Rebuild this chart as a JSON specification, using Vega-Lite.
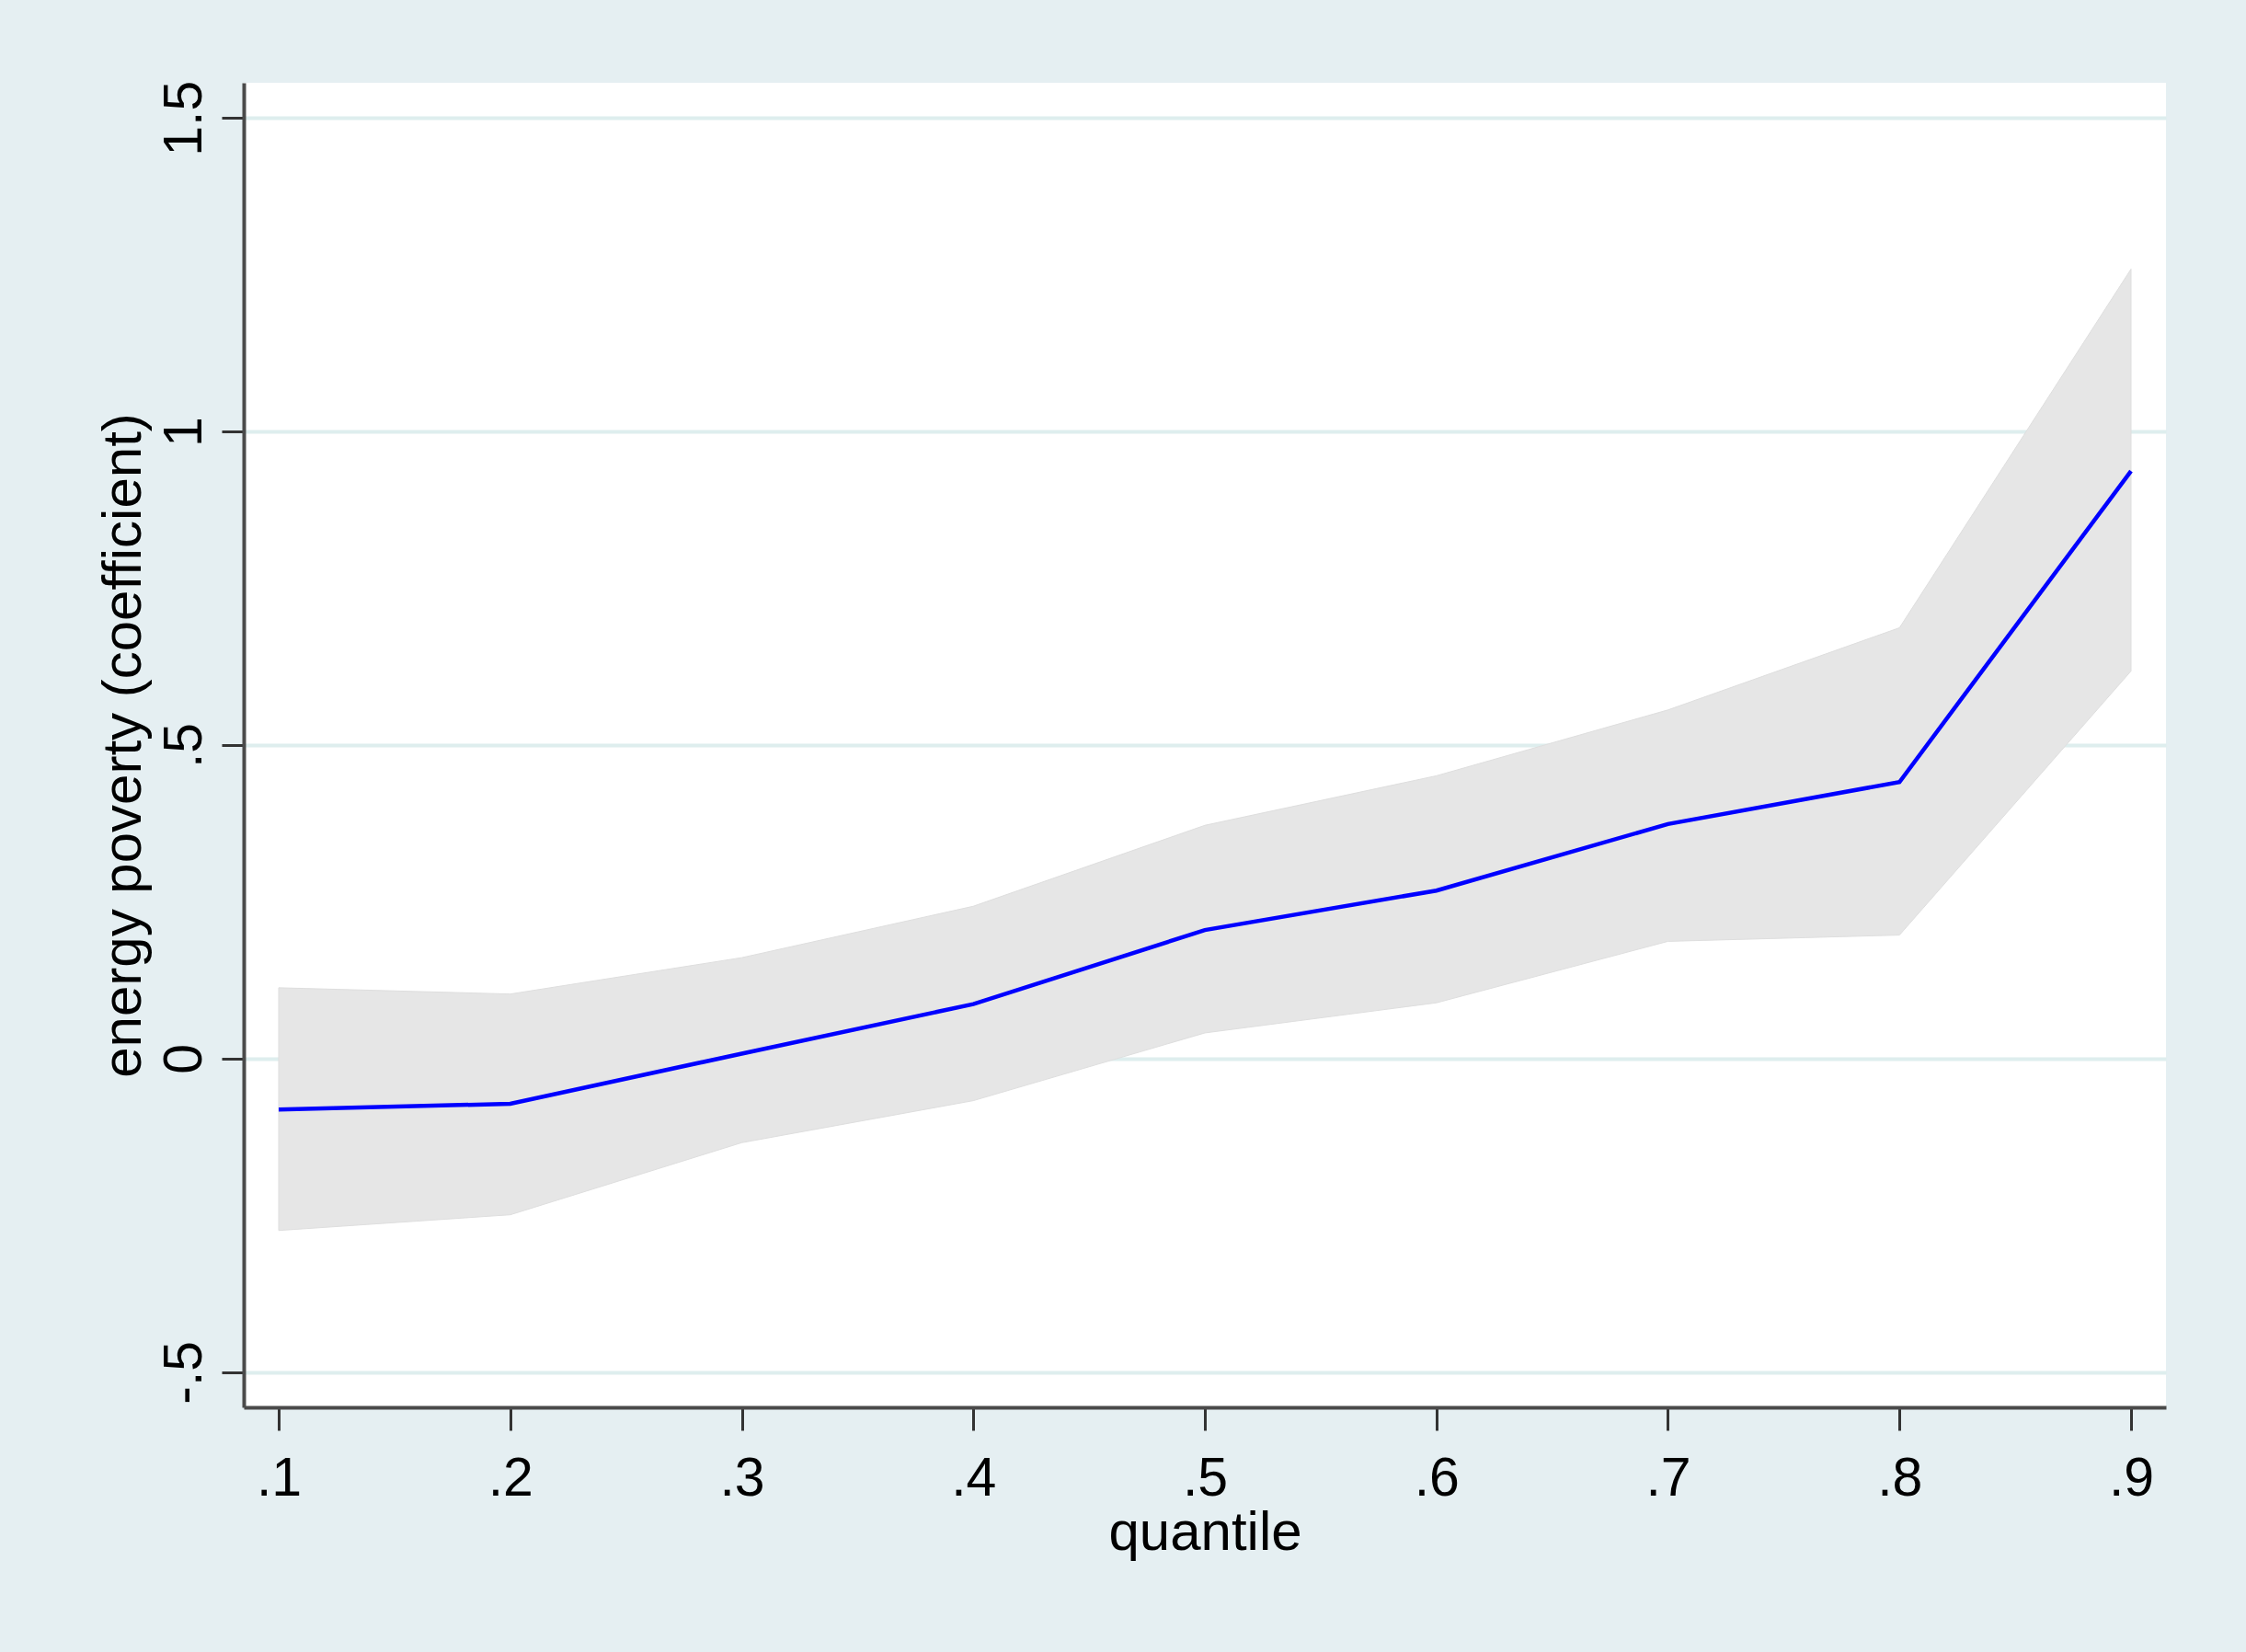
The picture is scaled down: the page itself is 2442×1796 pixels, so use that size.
{
  "$schema": "https://vega.github.io/schema/vega-lite/v6.json",
  "autosize": {"type": "none"},
  "padding": {"left": 265, "top": 90, "right": 87, "bottom": 266},
  "width": 2090,
  "height": 1440,
  "background": "#e5eff2",
  "config": {
    "view": {"fill": "#ffffff", "stroke": null},
    "font": "Liberation Sans"
  },
  "data": {
    "values": [
      {"quantile": 0.1, "coef": -0.081, "lo": -0.274, "hi": 0.113},
      {"quantile": 0.2, "coef": -0.072, "lo": -0.249, "hi": 0.103},
      {"quantile": 0.3, "coef": 0.008, "lo": -0.134, "hi": 0.161},
      {"quantile": 0.4, "coef": 0.087, "lo": -0.067, "hi": 0.243},
      {"quantile": 0.5, "coef": 0.205, "lo": 0.041, "hi": 0.372},
      {"quantile": 0.6, "coef": 0.268, "lo": 0.089, "hi": 0.451},
      {"quantile": 0.7, "coef": 0.374, "lo": 0.187, "hi": 0.556},
      {"quantile": 0.8, "coef": 0.441, "lo": 0.197, "hi": 0.687},
      {"quantile": 0.9, "coef": 0.937, "lo": 0.618, "hi": 1.259}
    ]
  },
  "encoding": {
    "x": {
      "field": "quantile",
      "type": "quantitative",
      "scale": {"domain": [0.0849, 0.9151], "nice": false, "zero": false},
      "axis": {
        "title": "quantile",
        "values": [0.1, 0.2, 0.3, 0.4, 0.5, 0.6, 0.7, 0.8, 0.9],
        "labelExpr": "replace(toString(datum.value), '0.', '.')",
        "grid": false,
        "domainColor": "#4a4a4a",
        "domainWidth": 4,
        "tickColor": "#333333",
        "tickWidth": 3,
        "tickSize": 25,
        "labelFontSize": 59,
        "labelColor": "#000000",
        "labelPadding": 23,
        "labelBaseline": "top",
        "titleFontSize": 60,
        "titleFontWeight": "normal",
        "titleColor": "#000000",
        "titleBaseline": "alphabetic",
        "titleX": 1045,
        "titleY": 154
      }
    }
  },
  "layer": [
    {
      "mark": {"type": "area", "color": "#e6e6e6", "opacity": 1, "stroke": "#dedede", "strokeWidth": 1},
      "encoding": {
        "y": {
          "field": "lo",
          "type": "quantitative",
          "scale": {"domain": [-0.556, 1.556], "nice": false, "zero": false},
          "axis": {
            "title": "energy poverty (coefficient)",
            "values": [-0.5, 0, 0.5, 1, 1.5],
            "labelExpr": "datum.value == 0 ? '0' : replace(toString(datum.value), '0.', '.')",
            "grid": true,
            "gridColor": "#deeeee",
            "gridWidth": 4,
            "domainColor": "#4a4a4a",
            "domainWidth": 4,
            "tickColor": "#333333",
            "tickWidth": 3,
            "tickSize": 24,
            "labelFontSize": 59,
            "labelColor": "#000000",
            "labelAngle": -90,
            "labelAlign": "center",
            "labelBaseline": "alphabetic",
            "labelPadding": 23,
            "titleFontSize": 60,
            "titleFontWeight": "normal",
            "titleColor": "#000000",
            "titleAngle": -90,
            "titleAlign": "center",
            "titleBaseline": "alphabetic",
            "titleX": -113,
            "titleY": 720
          }
        },
        "y2": {"field": "hi"}
      }
    },
    {
      "mark": {"type": "line", "color": "#0000ff", "strokeWidth": 4.5},
      "encoding": {
        "y": {"field": "coef", "type": "quantitative"}
      }
    }
  ]
}
